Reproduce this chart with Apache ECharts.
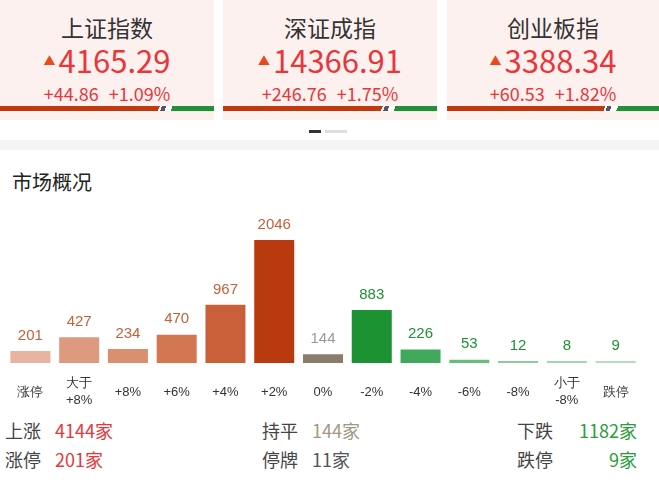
<!DOCTYPE html>
<html><head><meta charset="utf-8">
<script src="https://cdn.jsdelivr.net/npm/echarts@6/dist/echarts.min.js"></script>
<style>
body{margin:0;width:659px;height:488px;background:#fff;font-family:"Noto Sans CJK SC","Noto Sans",sans-serif;position:relative;overflow:hidden}
.card{position:absolute;top:0;height:120px;background:#fdf1ef;text-align:center}
.card .t{margin-top:12px;font-size:23px;color:#333;line-height:30px}
.card .v{font-size:31px;color:#e8363a;line-height:34px;margin-top:1px}
.card .v span{font-size:12px;vertical-align:7px;margin-right:3px;color:#e84a1a}
.card .c{font-size:18px;color:#e8363a;line-height:22px;margin-top:4px;word-spacing:6px}
.bar{position:absolute;left:0;right:0;top:106px;height:5px}
.abs{position:absolute;font-size:18px;line-height:22px}
</style></head><body>
<div id="cards"></div>
<div style="position:absolute;left:309px;top:130px;width:12px;height:3px;background:#333"></div>
<div style="position:absolute;left:325px;top:130px;width:22px;height:3px;background:#ddd"></div>
<div style="position:absolute;left:0;top:140px;width:659px;height:10px;background:#f5f5f5"></div>
<div class="abs" style="left:12px;top:168px;font-size:20px;line-height:28px;color:#222">市场概况</div>
<div id="chart" style="position:absolute;left:0;top:200px;width:659px;height:215px"></div>
<div id="stats"></div>
<script>
var indexNames = ['上证指数', '深证成指', '创业板指'];
var indexValues = ['4165.29', '14366.91', '3388.34'];
var indexChanges = ['+44.86', '+246.76', '+60.53'];
var indexPcts = ['+1.09%', '+1.75%', '+1.82%'];
var categories = ['涨停', '大于\n+8%', '+8%', '+6%', '+4%', '+2%', '0%', '-2%', '-4%', '-6%', '-8%', '小于\n-8%', '跌停'];
var counts = [201, 427, 234, 470, 967, 2046, 144, 883, 226, 53, 12, 8, 9];
var barColors = ['#e8b3a0', '#dd9a7e', '#d98f70', '#d37752', '#c9603a', '#b93a0e', '#8c7c6b', '#1c9232', '#41a95b', '#68bc7c', '#8ccb9b', '#a3d6ae', '#b3ddbb'];
var labelColors = ['#c4603a', '#c4603a', '#c4603a', '#c4603a', '#c4603a', '#c4603a', '#999', '#1c9232', '#1c9232', '#1c9232', '#1c9232', '#1c9232', '#1c9232'];

var cardLeft = [0, 223, 447];
var html = '';
indexNames.forEach((n, i)=>{
    html += '<div class="card" style="left:' + cardLeft[i] + 'px;width:' + (i == 2 ? 212 : 214) + 'px">' +
        '<div class="t">' + n + '</div>' +
        '<div class="v"><span>▲</span>' + indexValues[i] + '</div>' +
        '<div class="c">' + indexChanges[i] + ' ' + indexPcts[i] + '</div>' +
        '<div class="bar" style="background:linear-gradient(110deg,#c0390f 0,#c0390f 74%,#fff 74%,#fff 75%,#556 75%,#556 77%,#fff 77%,#fff 80%,#1f9136 80%)"></div></div>';
});
document.getElementById('cards').innerHTML = html;

var stats = [
    ['上涨', '4144家', '#e8363a', 5, 55, 440],
    ['涨停', '201家', '#e8363a', 5, 55, 469],
    ['持平', '144家', '#a39782', 262, 312, 440],
    ['停牌', '11家', '#555', 262, 312, 469],
    ['下跌', '1182家', '#2a9d3a', 517, -1, 440],
    ['跌停', '9家', '#2a9d3a', 517, -1, 469]
];
var sh = '';
stats.forEach((s)=>{
    sh += '<div class="abs" style="left:' + s[3] + 'px;top:' + (s[5] - 21) + 'px;color:#444">' + s[0] + '</div>';
    if (s[4] < 0) {
        sh += '<div class="abs" style="right:22px;top:' + (s[5] - 21) + 'px;color:' + s[2] + '">' + s[1] + '</div>';
    } else {
        sh += '<div class="abs" style="left:' + s[4] + 'px;top:' + (s[5] - 21) + 'px;color:' + s[2] + '">' + s[1] + '</div>';
    }
});
document.getElementById('stats').innerHTML = sh;

var myChart = echarts.init(document.getElementById('chart'));
var option = {
    animation: false,
    grid: {left: 6, right: 19, top: 40, bottom: 52},
    xAxis: {
        type: 'category',
        data: categories,
        axisLine: {show: false},
        axisTick: {show: false},
        axisLabel: {color: '#333', fontSize: 13, lineHeight: 17, margin: 29, verticalAlign: 'middle', interval: 0}
    },
    yAxis: {type: 'value', show: false, max: 2046},
    series: [{
        type: 'bar',
        barWidth: 40,
        barMinHeight: 2,
        data: counts.map((v, i)=>({value: v, itemStyle: {color: barColors[i]}, label: {color: labelColors[i]}})),
        label: {show: true, position: 'top', fontSize: 15, distance: 8}
    }]
};
myChart.setOption(option);
</script>
</body></html>
